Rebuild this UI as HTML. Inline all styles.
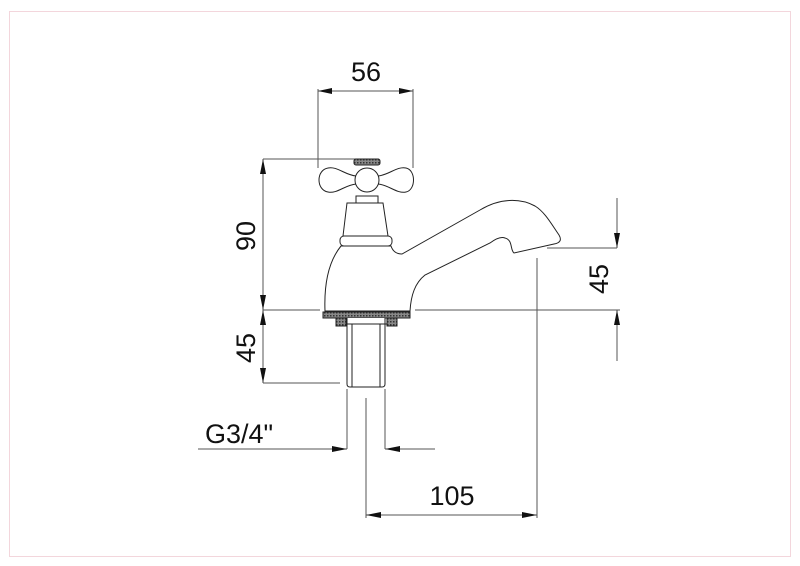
<!DOCTYPE html>
<html><head><meta charset="utf-8"><style>
html,body{margin:0;padding:0;background:#fff;}
svg{display:block;}
text{font-family:"Liberation Sans",Arial,sans-serif;fill:#111;}
</style></head><body>
<svg width="800" height="566" viewBox="0 0 800 566" xmlns="http://www.w3.org/2000/svg">
<defs>
<pattern id="h" width="3" height="3" patternUnits="userSpaceOnUse"><rect width="3" height="3" fill="#888"/><rect width="1.5" height="1.5" fill="#333"/></pattern>
</defs>
<rect x="9.5" y="11.5" width="781" height="545" fill="#fff" stroke="#f3d6dc" stroke-width="1"/>
<g stroke="#555" stroke-width="1" fill="none">
<line x1="318" y1="89" x2="318" y2="168"/>
<line x1="413" y1="89" x2="413" y2="168"/>
<line x1="318" y1="91" x2="413" y2="91"/>
<line x1="263" y1="159" x2="263" y2="383"/>
<line x1="263" y1="159" x2="358" y2="159"/>
<line x1="263" y1="310" x2="320" y2="310"/>
<line x1="415" y1="310" x2="620" y2="310"/>
<line x1="263" y1="383" x2="340" y2="383"/>
<line x1="617" y1="198" x2="617" y2="248"/>
<line x1="547" y1="248" x2="617" y2="248"/>
<line x1="617" y1="310" x2="617" y2="361"/>
<line x1="537" y1="258" x2="537" y2="518"/>
<line x1="366" y1="398" x2="366" y2="518"/>
<line x1="366" y1="515" x2="537" y2="515"/>
<line x1="198" y1="449" x2="347" y2="449"/>
<line x1="347" y1="389" x2="347" y2="449"/>
<line x1="385" y1="389" x2="385" y2="449"/>
<line x1="385" y1="449" x2="435" y2="449"/>
</g>
<g fill="#111">
<polygon points="318,91 332,88 332,94"/><polygon points="413,91 399,88 399,94"/>
<polygon points="263,159 260,174 266,174"/><polygon points="263,310 260,295 266,295"/>
<polygon points="263,310 260,325 266,325"/><polygon points="263,383 260,368 266,368"/>
<polygon points="617,248 614,233 620,233"/><polygon points="617,310 614,325 620,325"/>
<polygon points="366,515 381,512 381,518"/><polygon points="537,515 522,512 522,518"/>
<polygon points="347,449 332,446 332,452"/><polygon points="385,449 400,446 400,452"/>
</g>
<g stroke="#222" stroke-width="1" fill="#fff">
<path d="M325,311 C324,285 328,262 341,246 L391,246 C393,252 397,254 402,254 L480,210 C500,198 520,198 535,206 C545,212 552,225 559,235 C562,240 560,243 554,244 L514,253 C510,250 513,240 505,238 C500,236 494,240 490,243 L425,275 C415,283 411,295 410,311 Z"/>
<rect x="340" y="236" width="52" height="10" rx="4"/>
<path d="M343,236 L347,203 L383,203 L388,236 Z"/>
<rect x="356" y="196" width="22" height="7"/>
<path d="M328,168 C337,166 345,175 356,176 L378,176 C389,175 397,166 406,168 C416,170 416,190 406,192 C397,194 389,185 378,184 L356,184 C345,185 337,194 328,192 C316,190 316,170 328,168 Z"/>
<circle cx="367" cy="180" r="12"/>
<rect x="354" y="159" width="26" height="6" rx="2" fill="url(#h)"/>
<rect x="323" y="312" width="87" height="6" fill="url(#h)"/>
<rect x="336" y="318" width="10" height="8" fill="url(#h)"/>
<rect x="387" y="318" width="10" height="8" fill="url(#h)"/>
<path d="M347,318 L347,384 Q347,387 350,387 L382,387 Q385,387 385,384 L385,318"/>
<line x1="352" y1="324" x2="352" y2="387"/>
<line x1="380" y1="324" x2="380" y2="387"/>
<line x1="346" y1="324" x2="387" y2="324"/>
</g>
<g font-size="27">
<text x="366" y="81" text-anchor="middle">56</text>
<text x="452" y="505" text-anchor="middle">105</text>
<text x="205" y="443">G3/4"</text>
<text transform="translate(255,236) rotate(-90)" text-anchor="middle">90</text>
<text transform="translate(255,348) rotate(-90)" text-anchor="middle">45</text>
<text transform="translate(608,279) rotate(-90)" text-anchor="middle">45</text>
</g>
</svg>
</body></html>
